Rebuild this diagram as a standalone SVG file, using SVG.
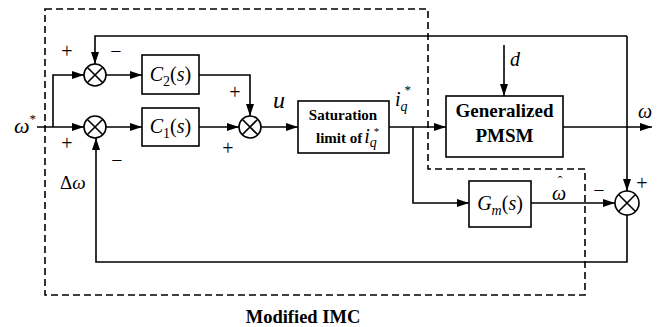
<svg xmlns="http://www.w3.org/2000/svg" width="660" height="327" viewBox="0 0 660 327">
<defs>
<marker id="arr" markerWidth="12" markerHeight="8" refX="12" refY="4" orient="auto" markerUnits="userSpaceOnUse">
<path d="M0,0 L12,4 L0,8 Z" fill="#000"/>
</marker>
</defs>
<style>
.ln{fill:none;stroke:#000;stroke-width:1.6}
.box{fill:#fff;stroke:#000;stroke-width:1.6}
.dash{fill:none;stroke:#000;stroke-width:1.6;stroke-dasharray:7,4}
.sj{fill:#fff;stroke:#000;stroke-width:1.6}
.it{font-style:italic}
.b{font-weight:bold}
.sg{font-size:20px}
</style>
<rect width="660" height="327" fill="#fff"/>
<g font-family="Liberation Serif, Times New Roman, DejaVu Serif, serif" fill="#000">
<g id="imc-boundary">
<path class="dash" d="M45,9 H428 V169 H585 V295 H45 Z"/>
<text class="b" x="303" y="323" font-size="18.5" text-anchor="middle">Modified IMC</text>
</g>
<g id="connectors">
<path class="ln" d="M627,36 H95 V64" marker-end="url(#arr)"/>
<path class="ln" d="M37,127 H84" marker-end="url(#arr)"/>
<path class="ln" d="M53,127 V75 H84" marker-end="url(#arr)"/>
<path class="ln" d="M106,75 H142" marker-end="url(#arr)"/>
<path class="ln" d="M106,127 H142" marker-end="url(#arr)"/>
<path class="ln" d="M199,127 H239" marker-end="url(#arr)"/>
<path class="ln" d="M199,75 H250 V116" marker-end="url(#arr)"/>
<path class="ln" d="M261,127 H298" marker-end="url(#arr)"/>
<path class="ln" d="M389,127 H446" marker-end="url(#arr)"/>
<path class="ln" d="M504,45 V96" marker-end="url(#arr)"/>
<path class="ln" d="M563,127 H652" marker-end="url(#arr)"/>
<path class="ln" d="M413,127 V203 H469" marker-end="url(#arr)"/>
<path class="ln" d="M531,203 H615" marker-end="url(#arr)"/>
<path class="ln" d="M627,36 V191" marker-end="url(#arr)"/>
<path class="ln" d="M627,215 V262 H96 V138" marker-end="url(#arr)"/>
</g>
<g id="sum1">
<circle class="sj" cx="95" cy="75" r="11"/>
<path class="ln" d="M87.2,67.2 L102.8,82.8 M102.8,67.2 L87.2,82.8"/>
<text class="sg" x="67" y="58" text-anchor="middle">+</text>
<text class="sg" x="116" y="58" text-anchor="middle">−</text>
</g>
<g id="sum2">
<circle class="sj" cx="95" cy="127" r="11"/>
<path class="ln" d="M87.2,119.2 L102.8,134.8 M102.8,119.2 L87.2,134.8"/>
<text class="sg" x="67" y="150" text-anchor="middle">+</text>
<text class="sg" x="117" y="167" text-anchor="middle">−</text>
</g>
<g id="sum3">
<circle class="sj" cx="250" cy="127" r="11"/>
<path class="ln" d="M242.2,119.2 L257.8,134.8 M257.8,119.2 L242.2,134.8"/>
<text class="sg" x="235" y="99" text-anchor="middle">+</text>
<text class="sg" x="228" y="155" text-anchor="middle">+</text>
</g>
<g id="sum4">
<circle class="sj" cx="627" cy="203" r="12"/>
<path class="ln" d="M618.5,194.5 L635.5,211.5 M635.5,194.5 L618.5,211.5"/>
<text class="sg" x="642" y="190" text-anchor="middle">+</text>
<text class="sg" x="599" y="197" text-anchor="middle">−</text>
</g>
<g id="c2">
<rect class="box" x="142" y="55" width="57" height="39"/>
<text x="170.5" y="81" font-size="20" text-anchor="middle"><tspan class="it">C</tspan><tspan font-size="14" dy="5">2</tspan><tspan dy="-5">(</tspan><tspan class="it">s</tspan>)</text>
</g>
<g id="c1">
<rect class="box" x="142" y="108" width="57" height="38"/>
<text x="170.5" y="133" font-size="20" text-anchor="middle"><tspan class="it">C</tspan><tspan font-size="14" dy="5">1</tspan><tspan dy="-5">(</tspan><tspan class="it">s</tspan>)</text>
</g>
<g id="saturation">
<rect class="box" x="298" y="101" width="91" height="52"/>
<text class="b" x="343" y="120" font-size="15" text-anchor="middle">Saturation</text>
<text class="b" x="316" y="143" font-size="15">limit of<tspan class="it" font-weight="normal" font-size="20" dx="2">i</tspan><tspan class="it" font-weight="normal" font-size="14" dy="4">q</tspan><tspan font-weight="normal" font-size="11" dx="-3" dy="-12">*</tspan></text>
</g>
<g id="pmsm">
<rect class="box" x="446" y="96" width="117" height="61"/>
<text class="b" x="504.5" y="117" font-size="19" text-anchor="middle">Generalized</text>
<text class="b" x="504.5" y="142" font-size="19" text-anchor="middle">PMSM</text>
</g>
<g id="gm">
<rect class="box" x="469" y="181" width="62" height="46"/>
<text x="500" y="210" font-size="20" text-anchor="middle"><tspan class="it">G</tspan><tspan class="it" font-size="14" dy="5">m</tspan><tspan dy="-5">(</tspan><tspan class="it">s</tspan>)</text>
</g>
<g id="labels">
<text class="it" x="14" y="133" font-size="22">ω<tspan font-style="normal" font-size="13" dy="-10">*</tspan></text>
<text class="it" x="273" y="108" font-size="24">u</text>
<text class="it" x="395" y="106" font-size="20">i<tspan font-size="14" dy="5">q</tspan><tspan font-style="normal" font-size="13" dx="-3" dy="-17">*</tspan></text>
<text x="60" y="189" font-size="19">Δ<tspan class="it">ω</tspan></text>
<text class="it" x="510" y="66" font-size="20">d</text>
<text class="it" x="638" y="118" font-size="20">ω</text>
<text class="it" x="552" y="200" font-size="20">ω</text>
<text x="560" y="186" font-size="14" text-anchor="middle">ˆ</text>
</g>
</g>
</svg>
